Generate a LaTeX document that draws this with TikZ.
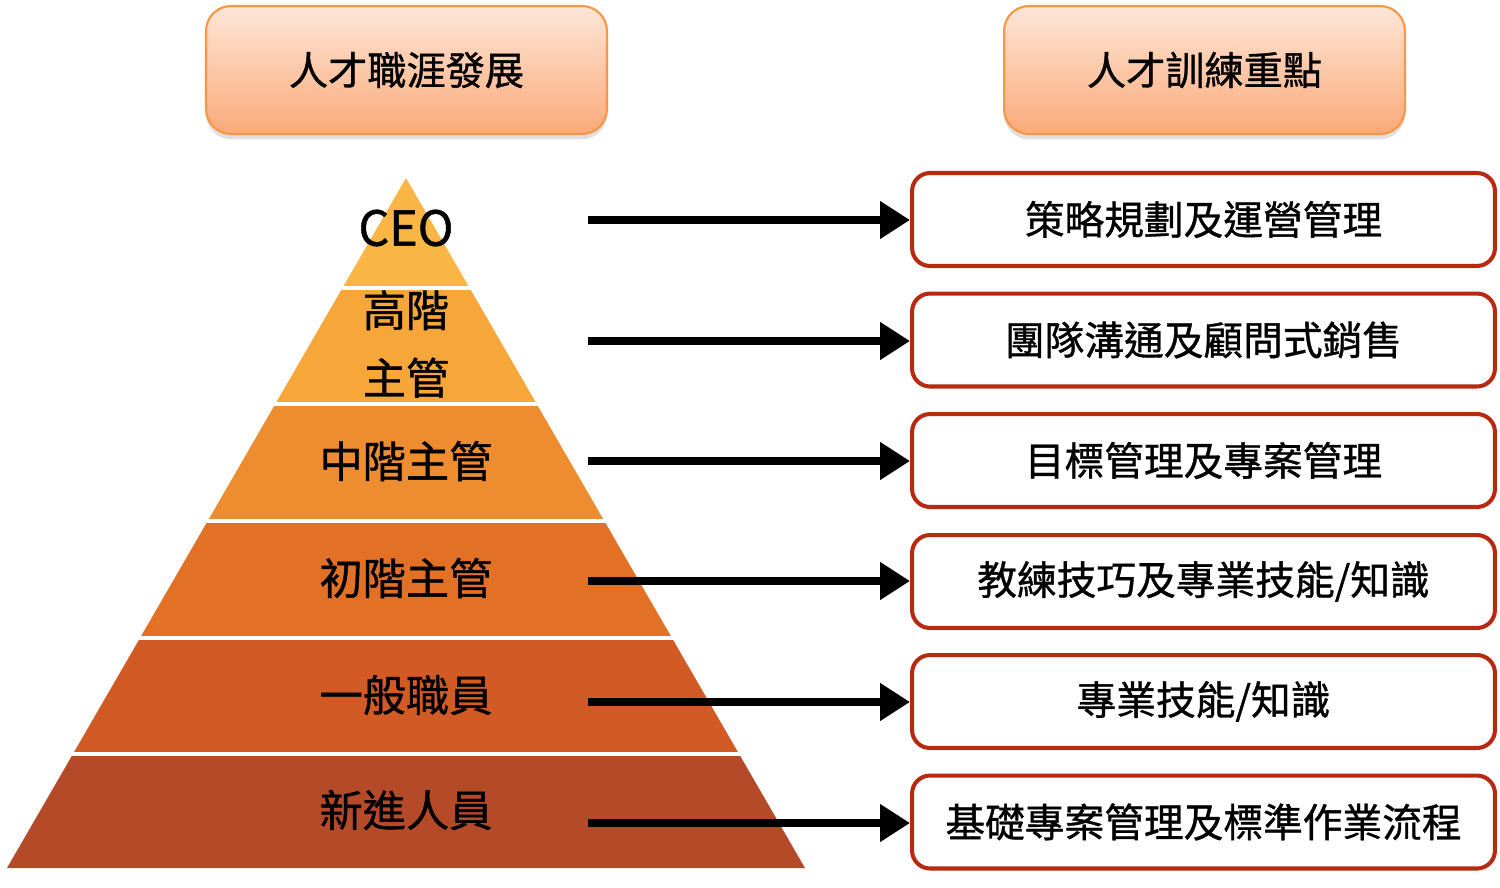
\documentclass[tikz,border=0pt]{standalone}
\usepackage{fontspec}
\newfontfamily\cjk[FakeBold=0.9]{Noto Sans CJK TC}
\usetikzlibrary{arrows.meta,shadows}

\definecolor{lvA}{RGB}{250,182,68}
\definecolor{lvB}{RGB}{247,166,58}
\definecolor{lvC}{RGB}{238,140,48}
\definecolor{lvD}{RGB}{226,113,38}
\definecolor{lvE}{RGB}{210,90,36}
\definecolor{lvF}{RGB}{181,74,40}
\definecolor{headline}{RGB}{247,150,70}
\definecolor{headtop}{RGB}{253,230,216}
\definecolor{headbot}{RGB}{251,170,120}
\definecolor{boxline}{RGB}{183,42,18}

\tikzset{
  head/.style={draw=headline, line width=1.2pt, rounded corners=0.5cm,
    top color=headtop, bottom color=headbot,
    minimum width=8.02cm, minimum height=2.56cm,
    font=\cjk\fontsize{22.3}{26}\selectfont,
    drop shadow={opacity=0.25, shadow xshift=0pt, shadow yshift=-3pt}},
  focus/.style={draw=boxline, line width=2.3pt, rounded corners=0.36cm, fill=white,
    minimum width=11.66cm, minimum height=1.86cm,
    font=\cjk\fontsize{22.6}{26}\selectfont},
  level/.style={font=\cjk\fontsize{24.6}{38.5}\selectfont, align=center},
  link/.style={line width=4.7pt, -{Triangle[length=0.6cm,width=0.72cm]}}
}

\begin{document}
\begin{tikzpicture}[x=0.02cm,y=-0.02cm]
\useasboundingbox (0,0) rectangle (1500,887);

\node[head] (career) at (406.5,70) {人才職涯發展};
\node[head] (train) at (1204.5,70) {人才訓練重點};

% pyramid
\begin{scope}
\clip (406,178) -- (805,868) -- (7,868) -- cycle;
\fill[lvA] (0,170) rectangle (820,286);
\fill[lvB] (0,290) rectangle (820,402);
\fill[lvC] (0,406) rectangle (820,519);
\fill[lvD] (0,523) rectangle (820,636);
\fill[lvE] (0,640) rectangle (820,752);
\fill[lvF] (0,756) rectangle (820,870);
\end{scope}

\node[level] (ceo) at (406,228) {\fontsize{27.5}{30}\selectfont CEO};
\node[level] (senior) at (406,344) {高階\\主管};
\node[level] (middle) at (406,461) {中階主管};
\node[level] (junior) at (406,578) {初階主管};
\node[level] (staff) at (406,695) {一般職員};
\node[level] (newbie) at (406,810) {新進人員};

% training focus
\node[focus] (f1) at (1203.5,219.5) {策略規劃及運營管理};
\node[focus] (f2) at (1203.5,340) {團隊溝通及顧問式銷售};
\node[focus] (f3) at (1203.5,460.5) {目標管理及專案管理};
\node[focus] (f4) at (1203.5,581.5) {教練技巧及專業技能/知識};
\node[focus] (f5) at (1203.5,701.5) {專業技能/知識};
\node[focus] (f6) at (1203.5,822) {基礎專案管理及標準作業流程};

\coordinate (s1) at (588,220);
\coordinate (s2) at (588,341);
\coordinate (s3) at (588,461);
\coordinate (s4) at (588,581);
\coordinate (s5) at (588,702);
\coordinate (s6) at (588,823);

\draw[link] (s1) -- (s1 -| f1.west);
\draw[link] (s2) -- (s2 -| f2.west);
\draw[link] (s3) -- (s3 -| f3.west);
\draw[link] (s4) -- (s4 -| f4.west);
\draw[link] (s5) -- (s5 -| f5.west);
\draw[link] (s6) -- (s6 -| f6.west);
\end{tikzpicture}
\end{document}
